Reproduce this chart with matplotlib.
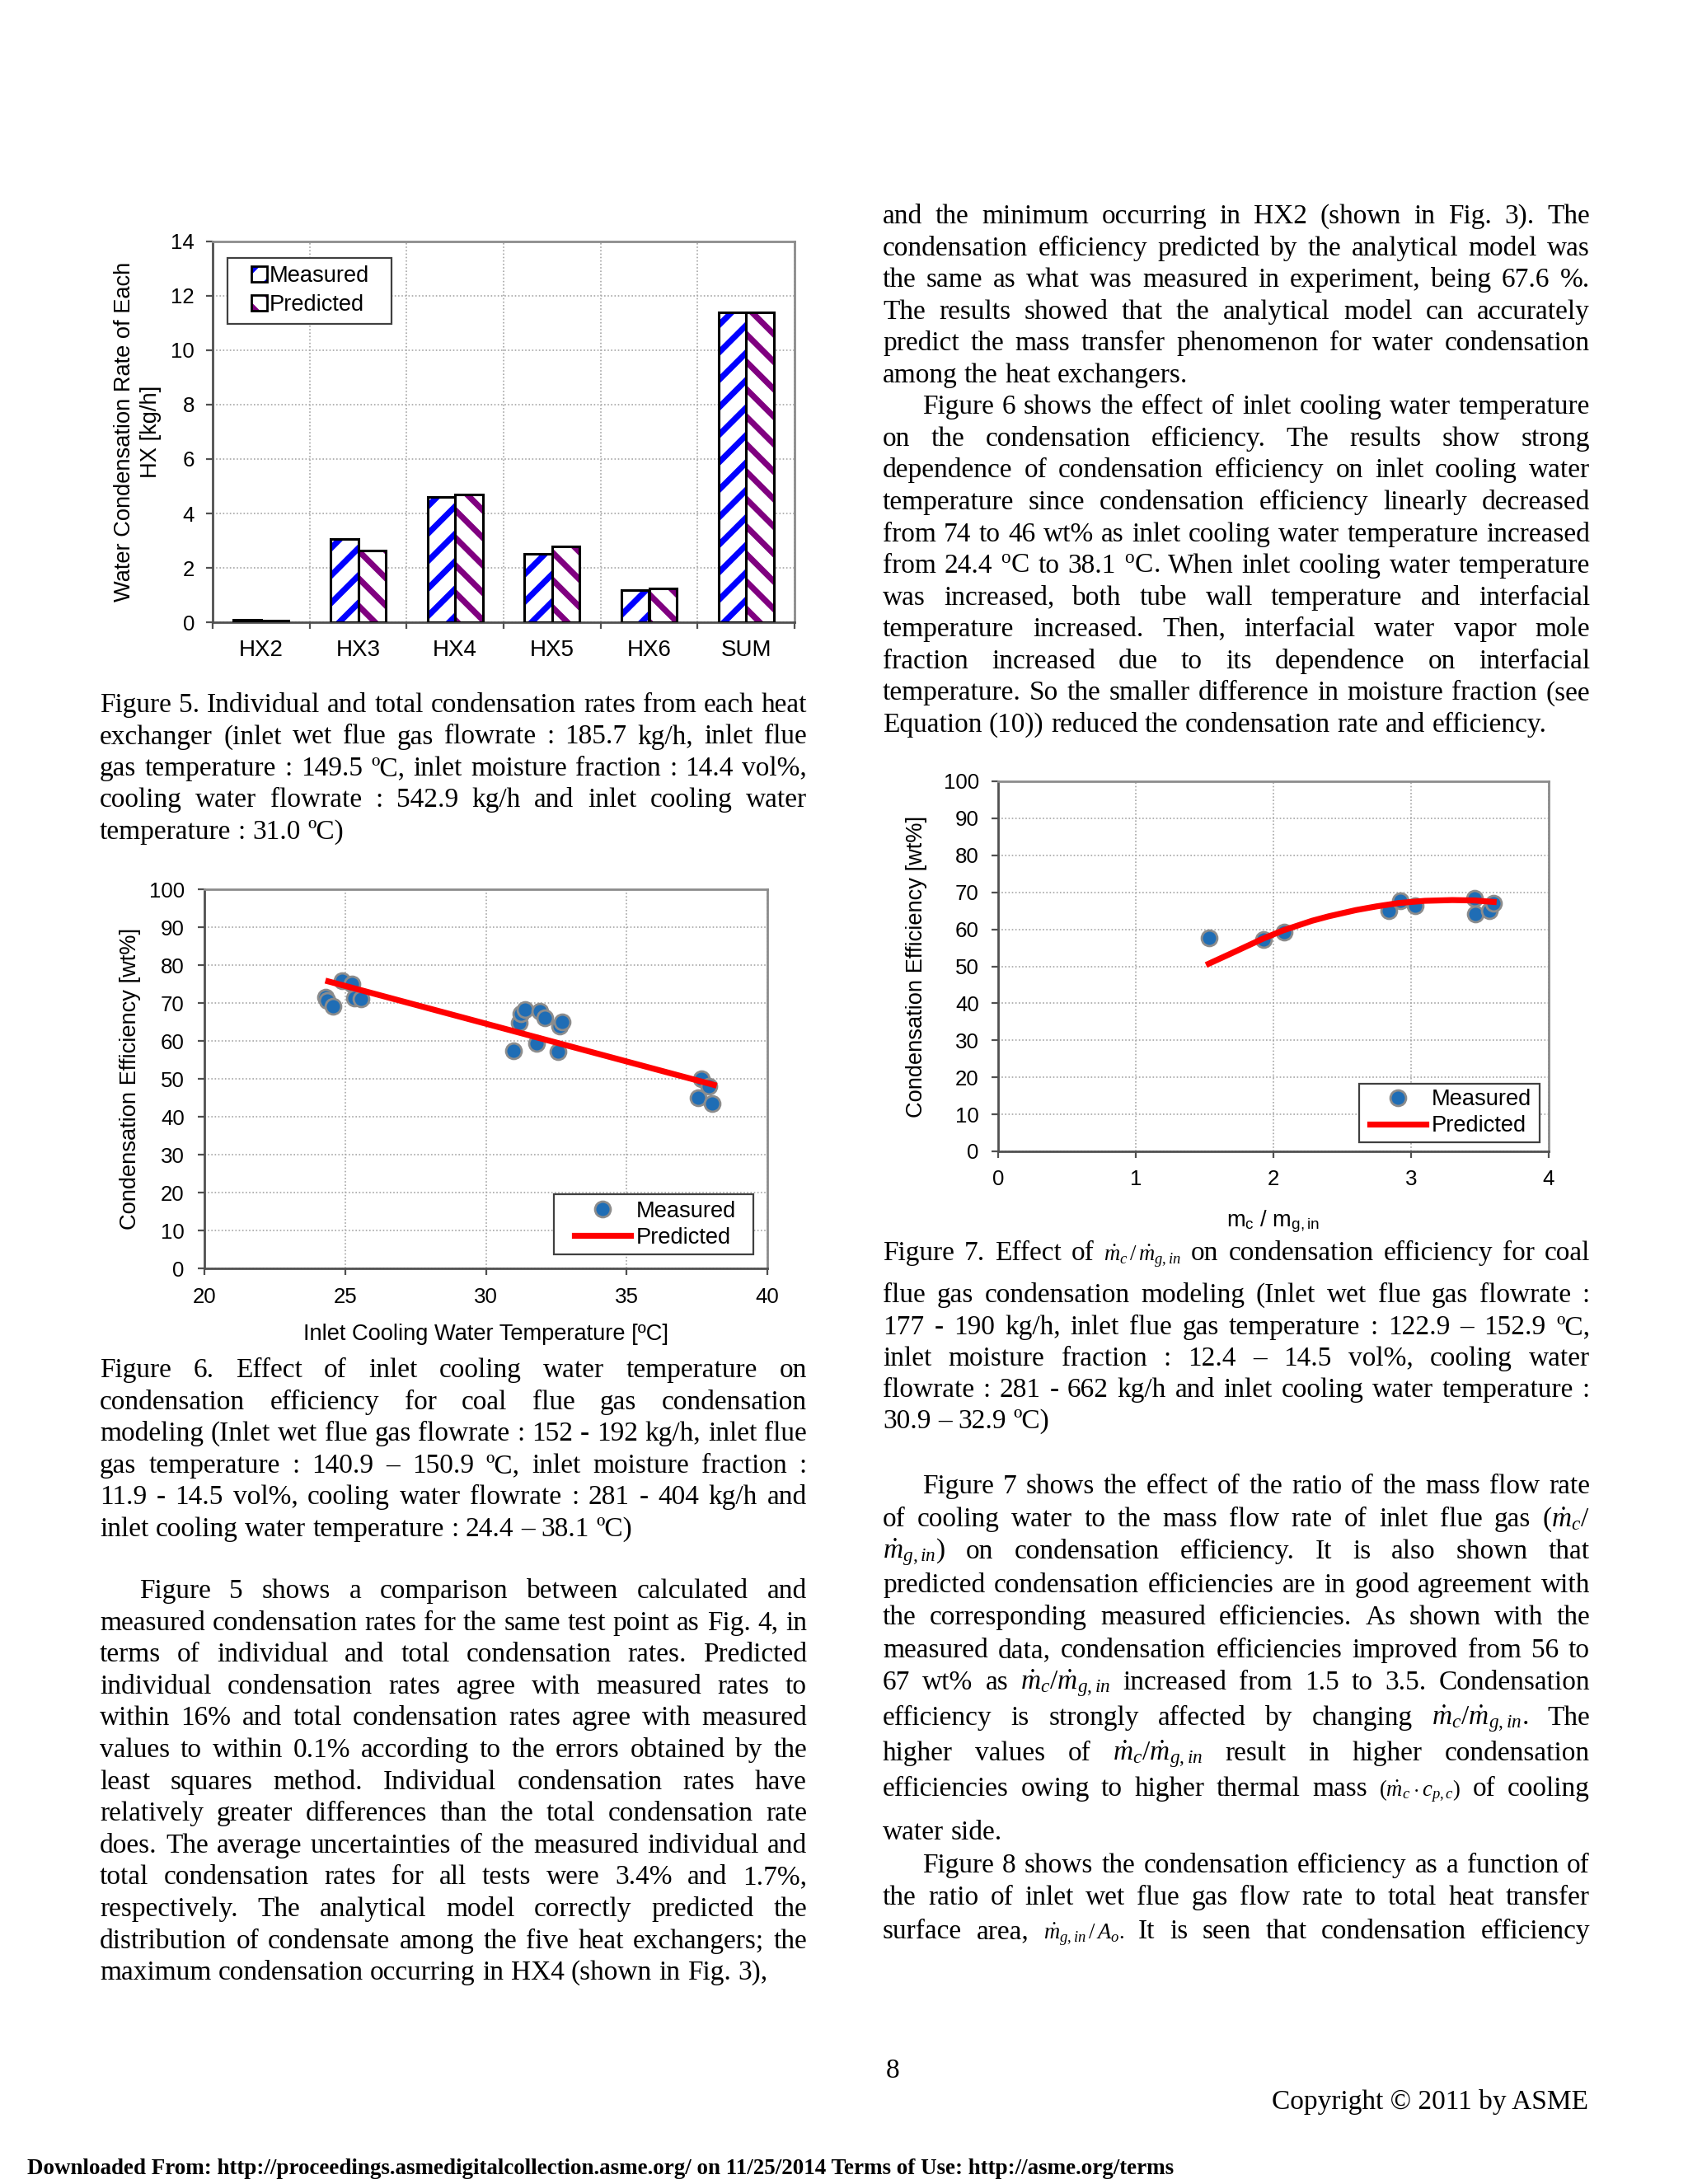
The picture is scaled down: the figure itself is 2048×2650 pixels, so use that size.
import matplotlib
matplotlib.use("Agg")
import matplotlib.pyplot as plt
from matplotlib.lines import Line2D
from matplotlib.patches import Patch, Rectangle

# ---------------- data ----------------
# Fig. 5 condensation rate of each heat exchanger [kg/h]
hx_names = ["HX2", "HX3", "HX4", "HX5", "HX6", "SUM"]
rate_measured = [0.08, 3.05, 4.61, 2.51, 1.18, 11.38]
rate_predicted = [0.05, 2.64, 4.71, 2.78, 1.25, 11.38]

# Fig. 6 efficiency vs inlet cooling water temperature
twin_meas = [24.30, 24.35, 24.56, 24.90, 25.25, 25.33, 25.56,
             30.98, 31.20, 31.24, 31.40, 31.80, 31.93, 32.10, 32.55, 32.63, 32.70,
             37.54, 37.65, 37.93, 38.05]
eff_twin_meas = [71.6, 70.7, 69.1, 75.9, 75.1, 71.4, 71.0,
                 57.5, 64.8, 67.1, 68.2, 59.3, 67.8, 66.1, 57.1, 64.0, 64.9,
                 45.0, 49.9, 48.1, 43.4]
twin_pred = [24.4, 38.1]
eff_twin_pred = [75.7, 48.4]

# Fig. 7 efficiency vs mc/mg,in
ratio_meas = [1.53, 1.93, 2.08, 2.84, 2.92, 3.03, 3.46, 3.47, 3.57, 3.60]
eff_ratio_meas = [57.6, 57.2, 59.3, 65.0, 67.8, 66.3, 68.3, 64.2, 65.0, 67.1]
ratio_pred = [1.53, 1.70, 1.92, 2.07, 2.28, 2.40, 2.60, 2.75, 2.91, 3.10, 3.30, 3.46, 3.60]
eff_ratio_pred = [50.7, 53.6, 57.4, 59.7, 62.3, 63.5, 65.2, 66.2, 67.1, 67.7, 67.9, 67.8, 67.4]

# ---------------- page text ----------------
cap5 = [
    "Figure 5. Individual and total condensation rates from each heat",
    "exchanger (inlet wet flue gas flowrate : 185.7 kg/h, inlet flue",
    "gas temperature : 149.5 ºC, inlet moisture fraction : 14.4 vol%,",
    "cooling water flowrate : 542.9 kg/h and inlet cooling water",
    "temperature : 31.0 ºC)",
]
cap6 = [
    "Figure 6. Effect of inlet cooling water temperature on",
    "condensation efficiency for coal flue gas condensation",
    "modeling (Inlet wet flue gas flowrate : 152 - 192 kg/h, inlet flue",
    "gas temperature : 140.9 – 150.9 ºC, inlet moisture fraction :",
    "11.9 - 14.5 vol%, cooling water flowrate : 281 - 404 kg/h and",
    "inlet cooling water temperature : 24.4 – 38.1 ºC)",
]
para_left = [
    "Figure 5 shows a comparison between calculated and",
    "measured condensation rates for the same test point as Fig. 4, in",
    "terms of individual and total condensation rates. Predicted",
    "individual condensation rates agree with measured rates to",
    "within 16% and total condensation rates agree with measured",
    "values to within 0.1% according to the errors obtained by the",
    "least squares method. Individual condensation rates have",
    "relatively greater differences than the total condensation rate",
    "does. The average uncertainties of the measured individual and",
    "total condensation rates for all tests were 3.4% and 1.7%,",
    "respectively. The analytical model correctly predicted the",
    "distribution of condensate among the five heat exchangers; the",
    "maximum condensation occurring in HX4 (shown in Fig. 3),",
]
para_right_a = [
    "and the minimum occurring in HX2 (shown in Fig. 3). The",
    "condensation efficiency predicted by the analytical model was",
    "the same as what was measured in experiment, being 67.6 %.",
    "The results showed that the analytical model can accurately",
    "predict the mass transfer phenomenon for water condensation",
    "among the heat exchangers.",
]
para_right_b = [
    "Figure 6 shows the effect of inlet cooling water temperature",
    "on the condensation efficiency. The results show strong",
    "dependence of condensation efficiency on inlet cooling water",
    "temperature since condensation efficiency linearly decreased",
    "from 74 to 46 wt% as inlet cooling water temperature increased",
    r"from 24.4 $^{\mathrm{o}}$C to 38.1 $^{\mathrm{o}}$C. When inlet cooling water temperature",
    "was increased, both tube wall temperature and interfacial",
    "temperature increased. Then, interfacial water vapor mole",
    "fraction increased due to its dependence on interfacial",
    "temperature. So the smaller difference in moisture fraction (see",
    "Equation (10)) reduced the condensation rate and efficiency.",
]
cap7 = [
    r"Figure 7. Effect of #$\dot{m}_c\,/\,\dot{m}_{g,in}$ on condensation efficiency for coal",
    "flue gas condensation modeling (Inlet wet flue gas flowrate :",
    "177 - 190 kg/h, inlet flue gas temperature : 122.9 – 152.9 ºC,",
    "inlet moisture fraction : 12.4 – 14.5 vol%, cooling water",
    "flowrate : 281 - 662 kg/h and inlet cooling water temperature :",
    "30.9 – 32.9 ºC)",
]
para7 = [
    "Figure 7 shows the effect of the ratio of the mass flow rate",
    r"of cooling water to the mass flow rate of inlet flue gas ($\dot{m}_c$/",
    r"$\dot{m}_{g,in}$) on condensation efficiency. It is also shown that",
    "predicted condensation efficiencies are in good agreement with",
    "the corresponding measured efficiencies. As shown with the",
    "measured data, condensation efficiencies improved from 56 to",
    r"67 wt% as $\dot{m}_c/\dot{m}_{g,in}$ increased from 1.5 to 3.5. Condensation",
    r"efficiency is strongly affected by changing $\dot{m}_c/\dot{m}_{g,in}$. The",
    r"higher values of $\dot{m}_c/\dot{m}_{g,in}$ result in higher condensation",
    r"efficiencies owing to higher thermal mass #($\dot{m}_c\cdot{c}_{p,c}$) of cooling",
    "water side.",
]
para8 = [
    "Figure 8 shows the condensation efficiency as a function of",
    "the ratio of inlet wet flue gas flow rate to total heat transfer",
    r"surface area, #$\dot{m}_{g,in}\,/\,A_o$. It is seen that condensation efficiency",
]
footer = ("Downloaded From: http://proceedings.asmedigitalcollection.asme.org/ "
          "on 11/25/2014 Terms of Use: http://asme.org/terms")

# ---------------- page setup ----------------
plt.rcParams["font.family"] = ["Liberation Sans", "DejaVu Sans"]
plt.rcParams["mathtext.fontset"] = "custom"
plt.rcParams["mathtext.rm"] = "Liberation Serif"
plt.rcParams["mathtext.it"] = "Liberation Serif:italic"
plt.rcParams["mathtext.bf"] = "Liberation Serif:bold"
plt.rcParams["hatch.linewidth"] = 2.6

W, H, DPI = 2048, 2650, 200
fig = plt.figure(figsize=(W / DPI, H / DPI), dpi=DPI)
fig.patch.set_facecolor("white")

SERIF = ["Liberation Serif", "DejaVu Serif"]
TICK_FS = 9.3
LAB_FS = 9.8
BODY_FS = 12.0
DOT = "#1F6DB5"
DOT_EDGE = "#8C8C8C"
MS = 6.8
RED_LW = 2.6


def fx(x):
    return x / W


def fy(y):
    return 1 - y / H


def px_axes(l, t, r, b):
    return fig.add_axes([l / W, 1 - b / H, (r - l) / W, (b - t) / H])


def style_axes(ax):
    for s in ["top", "right"]:
        ax.spines[s].set_color("#8C8C8C")
        ax.spines[s].set_linewidth(1.0)
    for s in ["left", "bottom"]:
        ax.spines[s].set_color("#505050")
        ax.spines[s].set_linewidth(1.0)
    ax.tick_params(direction="out", length=2.9, width=0.8, color="#505050",
                   labelsize=TICK_FS)
    ax.grid(True, ls=(0, (1, 1.5)), color="#A6A6A6", lw=0.6)
    ax.set_axisbelow(True)


# ---------------- Fig. 5 ----------------
ax5 = px_axes(258, 293, 964, 755)
style_axes(ax5)
centers = [i + 0.5 for i in range(len(hx_names))]
bw = 0.285
meas_x = [c - bw for c in centers]
ax5.bar(meas_x, rate_measured, width=bw, align="edge", facecolor="white",
        edgecolor="#0000FF", hatch="//", lw=0, zorder=2)
ax5.bar(centers, rate_predicted, width=bw, align="edge", facecolor="white",
        edgecolor="#800080", hatch="\\\\", lw=0, zorder=2)
ax5.bar(meas_x, rate_measured, width=bw, align="edge", facecolor="none",
        edgecolor="black", lw=1.1, zorder=3)
ax5.bar(centers, rate_predicted, width=bw, align="edge", facecolor="none",
        edgecolor="black", lw=1.1, zorder=3)
ax5.set_xlim(0, 6)
ax5.set_ylim(0, 14)
ax5.set_yticks(range(0, 15, 2))
ax5.set_xticks(range(7))
ax5.set_xticklabels([])
ax5.set_xticks(centers, minor=True)
ax5.set_xticklabels(hx_names, minor=True)
ax5.tick_params(axis="x", which="minor", length=0, pad=7.6)
ax5.tick_params(axis="y", pad=5.0)
ax5.set_ylabel("Water Condensation Rate of Each\nHX [kg/h]", fontsize=LAB_FS,
               va="center", linespacing=1.3)
ax5.yaxis.set_label_coords(-(258 - 167) / 706, 0.5)
h5 = [(Patch(facecolor="white", edgecolor="#0000FF", hatch="//", lw=0),
       Patch(facecolor="none", edgecolor="black", lw=1.0)),
      (Patch(facecolor="white", edgecolor="#800080", hatch="\\\\", lw=0),
       Patch(facecolor="none", edgecolor="black", lw=1.0))]
ax5.add_patch(Rectangle((0.026, 0.784), 0.281, 0.173, transform=ax5.transAxes,
                        facecolor="white", edgecolor="#404040", lw=0.8, zorder=4))
leg = ax5.legend(h5, ["Measured", "Predicted"], loc="center left",
                 bbox_to_anchor=(0.067, 0.871), frameon=False, borderpad=0,
                 borderaxespad=0, handlelength=0.68, handleheight=0.68,
                 handletextpad=0.12, labelspacing=0.33, fontsize=LAB_FS)
leg.set_zorder(5)

# ---------------- Fig. 6 ----------------
ax6 = px_axes(248, 1079, 931, 1539)
style_axes(ax6)
ax6.plot(twin_meas, eff_twin_meas, "o", ms=MS, mfc=DOT, mec=DOT_EDGE, mew=1.0,
         zorder=3)
ax6.plot(twin_pred, eff_twin_pred, "-", color="#FF0000", lw=RED_LW, zorder=4)
ax6.set_xlim(20, 40)
ax6.set_ylim(0, 100)
ax6.set_xticks(range(20, 41, 5))
ax6.set_yticks(range(0, 101, 10))
ax6.tick_params(axis="y", pad=5.8)
ax6.tick_params(axis="x", pad=5.2)
ax6.set_xlabel("Inlet Cooling Water Temperature [ºC]", fontsize=LAB_FS, va="center")
ax6.xaxis.set_label_coords(0.5, -(1619 - 1539) / 460)
ax6.set_ylabel("Condensation Efficiency [wt%]", fontsize=LAB_FS, va="center")
ax6.yaxis.set_label_coords(-(248 - 158) / 683, 0.5)
h6 = [Line2D([], [], ls="none", marker="o", ms=MS, mfc=DOT, mec=DOT_EDGE, mew=1.0),
      Line2D([], [], color="#FF0000", lw=RED_LW)]
ax6.add_patch(Rectangle((0.621, 0.037), 0.354, 0.158, transform=ax6.transAxes,
                        facecolor="white", edgecolor="#404040", lw=0.8, zorder=4))
leg = ax6.legend(h6, ["Measured", "Predicted"], loc="center left",
                 bbox_to_anchor=(0.658, 0.116), frameon=False, borderpad=0,
                 borderaxespad=0, handlelength=2.5, handletextpad=0.24,
                 labelspacing=0.22, fontsize=LAB_FS)
leg.set_zorder(5)

# ---------------- Fig. 7 ----------------
ax7 = px_axes(1211, 948, 1879, 1397)
style_axes(ax7)
ax7.plot(ratio_meas, eff_ratio_meas, "o", ms=MS, mfc=DOT, mec=DOT_EDGE, mew=1.0,
         zorder=3)
ax7.plot(ratio_pred, eff_ratio_pred, "-", color="#FF0000", lw=RED_LW, zorder=4)
ax7.set_xlim(0, 4)
ax7.set_ylim(0, 100)
ax7.set_xticks(range(0, 5))
ax7.set_yticks(range(0, 101, 10))
ax7.tick_params(axis="y", pad=5.5)
ax7.tick_params(axis="x", pad=5.2)
ax7.set_xlabel(r"m$_\mathregular{c}$ / m$_\mathregular{g,in}$", fontsize=LAB_FS,
               va="center")
ax7.xaxis.set_label_coords(0.5, -(1482 - 1397) / 449)
ax7.set_ylabel("Condensation Efficiency [wt%]", fontsize=LAB_FS, va="center")
ax7.yaxis.set_label_coords(-(1211 - 1112) / 668, 0.5)
ax7.add_patch(Rectangle((0.656, 0.025), 0.328, 0.157, transform=ax7.transAxes,
                        facecolor="white", edgecolor="#404040", lw=0.8, zorder=4))
leg = ax7.legend(h6, ["Measured", "Predicted"], loc="center left",
                 bbox_to_anchor=(0.675, 0.104), frameon=False, borderpad=0,
                 borderaxespad=0, handlelength=2.5, handletextpad=0.24,
                 labelspacing=0.22, fontsize=LAB_FS)
leg.set_zorder(5)

# ---------------- body text (justified by hand) ----------------
renderer = fig.canvas.get_renderer()


def measure(s, size, weight="normal"):
    t = fig.text(0, 0, s, fontsize=size, family=SERIF, weight=weight)
    w = t.get_window_extent(renderer=renderer).width
    t.remove()
    return w


SPACE = measure("a a", BODY_FS) - 2 * measure("a", BODY_FS)


def put_line(line, x0, x1, y, justify):
    words = []
    for w in line.split(" "):
        size = BODY_FS
        if w.startswith("#"):      # small inline equation objects
            w, size = w[1:], BODY_FS * 0.8
        words.append((w, size))
    widths = [measure(w, s) for w, s in words]
    gap = SPACE
    if justify and len(words) > 1:
        gap = (x1 - x0 - sum(widths)) / (len(words) - 1)
    x = x0
    for (w, s), wd in zip(words, widths):
        fig.text(fx(x), fy(y), w, fontsize=s, family=SERIF, ha="left", va="baseline")
        x += wd + gap


def put_block(lines, x0, x1, baselines, indent=0, last_justified=False):
    for i, line in enumerate(lines):
        last = i == len(lines) - 1
        put_line(line, x0 + (indent if i == 0 else 0), x1, baselines[i],
                 justify=(not last) or last_justified)


LX0, LX1 = 121, 979
RX0, RX1 = 1071, 1929
IND = 48

put_block(cap5, LX0, LX1, [864 + i * 38.5 for i in range(len(cap5))])
put_block(cap6, LX0, LX1, [1671 + i * 38.6 for i in range(len(cap6))])
put_block(para_left, LX0, LX1, [1939 + i * 38.6 for i in range(len(para_left))],
          indent=IND)
put_block(para_right_a, RX0, RX1, [271 + i * 38.56 for i in range(6)])
put_block(para_right_b, RX0, RX1, [271 + (i + 6) * 38.56 for i in range(11)],
          indent=IND)
put_block(cap7, RX0, RX1, [1529, 1580, 1619, 1657, 1695, 1733])
put_block(para7, RX0, RX1,
          [1812, 1852, 1891, 1932, 1971, 2011, 2050, 2093, 2136, 2179, 2232],
          indent=IND)
put_block(para8, RX0, RX1, [2272, 2311, 2352], indent=IND, last_justified=True)

fig.text(fx(1083), fy(2521), "8", fontsize=BODY_FS, family=SERIF, ha="center",
         va="baseline")
fig.text(fx(1927), fy(2559), "Copyright © 2011 by ASME", fontsize=BODY_FS,
         family=SERIF, ha="right", va="baseline")
foot_fs = 10 * (1425 - 33) / measure(footer, 10, weight="bold")
fig.text(fx(33), fy(2638), footer, fontsize=foot_fs, family=SERIF, weight="bold",
         ha="left", va="baseline")

fig.savefig("out.png", dpi=DPI, facecolor="white")
